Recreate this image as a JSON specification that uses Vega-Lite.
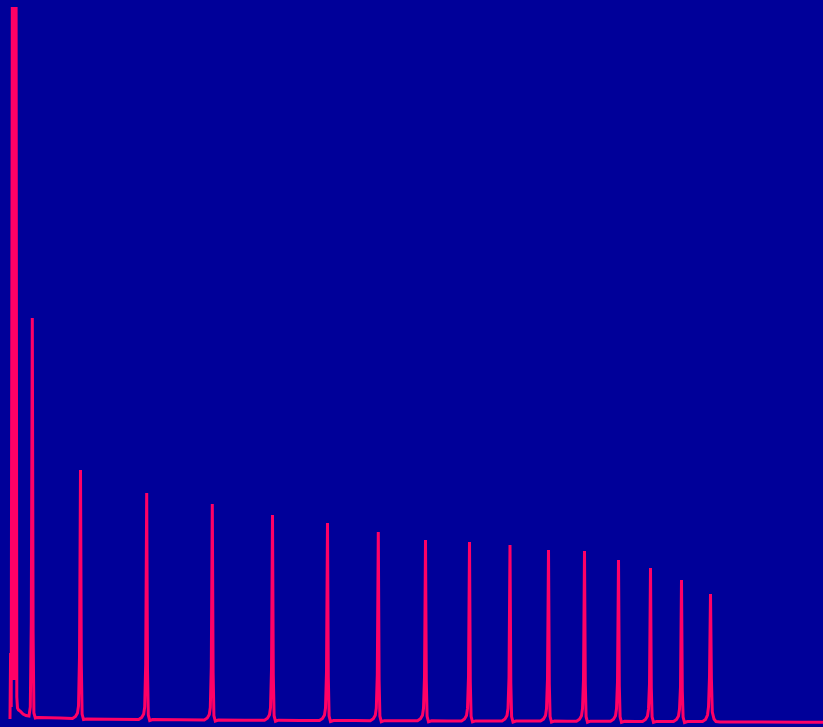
{
  "$schema": "https://vega.github.io/schema/vega-lite/v6.json",
  "width": 823,
  "height": 727,
  "autosize": {"type": "none"},
  "padding": 0,
  "background": "#000099",
  "config": {"view": {"stroke": null}},
  "data": {"values": [
    {"x": 10, "y": 8}, {"x": 10.6, "y": 74}, {"x": 11.2, "y": 20},
    {"x": 12.3, "y": 720}, {"x": 12.9, "y": 47}, {"x": 13.5, "y": 720}, {"x": 14.1, "y": 47}, {"x": 14.7, "y": 720}, {"x": 15.3, "y": 47}, {"x": 16.1, "y": 720},
    {"x": 16.8, "y": 30}, {"x": 17.5, "y": 19}, {"x": 18.5, "y": 17}, {"x": 20, "y": 16}, {"x": 23, "y": 13}, {"x": 26, "y": 11.5}, {"x": 29, "y": 11},
    {"x": 30.3, "y": 20}, {"x": 31.3, "y": 105}, {"x": 32.3, "y": 409}, {"x": 33.1, "y": 95}, {"x": 33.9, "y": 14}, {"x": 35.3, "y": 9}, {"x": 38, "y": 9.5},
    {"x": 60, "y": 9}, {"x": 72.5, "y": 8.5}, {"x": 75.5, "y": 10.5}, {"x": 77.5, "y": 14}, {"x": 78.5, "y": 21}, {"x": 79.5, "y": 70}, {"x": 80.5, "y": 257}, {"x": 81.3, "y": 64}, {"x": 82.1, "y": 13}, {"x": 83.5, "y": 7.5}, {"x": 86.5, "y": 8},
    {"x": 110, "y": 7.8},
    {"x": 138.7, "y": 7.5}, {"x": 141.7, "y": 9.5}, {"x": 143.7, "y": 13}, {"x": 144.7, "y": 20}, {"x": 145.7, "y": 63}, {"x": 146.7, "y": 234}, {"x": 147.5, "y": 58}, {"x": 148.3, "y": 12}, {"x": 149.7, "y": 6.5}, {"x": 152.7, "y": 7.5},
    {"x": 180, "y": 7.2},
    {"x": 204.3, "y": 7}, {"x": 207.3, "y": 9}, {"x": 209.3, "y": 12.5}, {"x": 210.3, "y": 19.5}, {"x": 211.3, "y": 60}, {"x": 212.3, "y": 223}, {"x": 213.1, "y": 55}, {"x": 213.9, "y": 11.5}, {"x": 215.3, "y": 6}, {"x": 218.3, "y": 7},
    {"x": 245, "y": 6.8},
    {"x": 264.5, "y": 6.8}, {"x": 267.5, "y": 8.8}, {"x": 269.5, "y": 12.3}, {"x": 270.5, "y": 19.3}, {"x": 271.5, "y": 57}, {"x": 272.5, "y": 212}, {"x": 273.3, "y": 52}, {"x": 274.1, "y": 11.3}, {"x": 275.5, "y": 5.8}, {"x": 278.5, "y": 6.8},
    {"x": 300, "y": 6.6},
    {"x": 319.5, "y": 6.5}, {"x": 322.5, "y": 8.5}, {"x": 324.5, "y": 12}, {"x": 325.5, "y": 19}, {"x": 326.5, "y": 55}, {"x": 327.5, "y": 204}, {"x": 328.3, "y": 50}, {"x": 329.1, "y": 11}, {"x": 330.5, "y": 5.5}, {"x": 333.5, "y": 6.5},
    {"x": 355, "y": 6.4},
    {"x": 370.3, "y": 6.3}, {"x": 373.3, "y": 8.3}, {"x": 375.3, "y": 11.8}, {"x": 376.3, "y": 18.8}, {"x": 377.3, "y": 52}, {"x": 378.3, "y": 195}, {"x": 379.1, "y": 47}, {"x": 379.9, "y": 10.8}, {"x": 381.3, "y": 5.3}, {"x": 384.3, "y": 6.3},
    {"x": 402, "y": 6.2},
    {"x": 417.5, "y": 6.2}, {"x": 420.5, "y": 8.2}, {"x": 422.5, "y": 11.7}, {"x": 423.5, "y": 18.7}, {"x": 424.5, "y": 50}, {"x": 425.5, "y": 187}, {"x": 426.3, "y": 46}, {"x": 427.1, "y": 10.7}, {"x": 428.5, "y": 5.2}, {"x": 431.5, "y": 6.2},
    {"x": 448, "y": 6.1},
    {"x": 461.5, "y": 6.1}, {"x": 464.5, "y": 8.1}, {"x": 466.5, "y": 11.6}, {"x": 467.5, "y": 18.6}, {"x": 468.5, "y": 50}, {"x": 469.5, "y": 185}, {"x": 470.3, "y": 45}, {"x": 471.1, "y": 10.6}, {"x": 472.5, "y": 5.1}, {"x": 475.5, "y": 6.1},
    {"x": 490, "y": 6},
    {"x": 502, "y": 6}, {"x": 505, "y": 8}, {"x": 507, "y": 11.5}, {"x": 508, "y": 18.5}, {"x": 509, "y": 49}, {"x": 510, "y": 182}, {"x": 510.8, "y": 44}, {"x": 511.6, "y": 10.5}, {"x": 513, "y": 5}, {"x": 516, "y": 6},
    {"x": 530, "y": 5.9},
    {"x": 540.5, "y": 5.9}, {"x": 543.5, "y": 7.9}, {"x": 545.5, "y": 11.4}, {"x": 546.5, "y": 18.4}, {"x": 547.5, "y": 48}, {"x": 548.5, "y": 177}, {"x": 549.3, "y": 43}, {"x": 550.1, "y": 10.4}, {"x": 551.5, "y": 4.9}, {"x": 554.5, "y": 5.9},
    {"x": 567, "y": 5.8},
    {"x": 576.5, "y": 5.8}, {"x": 579.5, "y": 7.8}, {"x": 581.5, "y": 11.3}, {"x": 582.5, "y": 18.3}, {"x": 583.5, "y": 47.5}, {"x": 584.5, "y": 176}, {"x": 585.3, "y": 43}, {"x": 586.1, "y": 10.3}, {"x": 587.5, "y": 4.8}, {"x": 590.5, "y": 5.8},
    {"x": 602, "y": 5.7},
    {"x": 610.5, "y": 5.7}, {"x": 613.5, "y": 7.7}, {"x": 615.5, "y": 11.2}, {"x": 616.5, "y": 18.2}, {"x": 617.5, "y": 45}, {"x": 618.5, "y": 167}, {"x": 619.3, "y": 41}, {"x": 620.1, "y": 10.2}, {"x": 621.5, "y": 4.7}, {"x": 624.5, "y": 5.7},
    {"x": 635, "y": 5.6},
    {"x": 642.5, "y": 5.6}, {"x": 645.5, "y": 7.6}, {"x": 647.5, "y": 11.1}, {"x": 648.5, "y": 18.1}, {"x": 649.5, "y": 43}, {"x": 650.5, "y": 159}, {"x": 651.3, "y": 39}, {"x": 652.1, "y": 10.1}, {"x": 653.5, "y": 4.6}, {"x": 656.5, "y": 5.6},
    {"x": 666, "y": 5.5},
    {"x": 673.5, "y": 5.5}, {"x": 676.5, "y": 7.5}, {"x": 678.5, "y": 11}, {"x": 679.5, "y": 18}, {"x": 680.5, "y": 40}, {"x": 681.5, "y": 147}, {"x": 682.3, "y": 36}, {"x": 683.1, "y": 10}, {"x": 684.5, "y": 4.5}, {"x": 687.5, "y": 5.5},
    {"x": 696, "y": 5.4},
    {"x": 702.5, "y": 5.4}, {"x": 705.5, "y": 7.4}, {"x": 707.5, "y": 12}, {"x": 708.5, "y": 20}, {"x": 709.5, "y": 50}, {"x": 710.5, "y": 133}, {"x": 711.4, "y": 48}, {"x": 712.3, "y": 15}, {"x": 714, "y": 8}, {"x": 716, "y": 5.4}, {"x": 720, "y": 5},
    {"x": 760, "y": 5}, {"x": 800, "y": 4.8}, {"x": 823, "y": 4.8}
  ]},
  "mark": {"type": "line", "color": "#ff0066", "strokeWidth": 3, "strokeJoin": "miter"},
  "encoding": {
    "x": {"field": "x", "type": "quantitative", "axis": null, "scale": {"domain": [0, 823], "nice": false, "zero": false}},
    "y": {"field": "y", "type": "quantitative", "axis": null, "scale": {"domain": [0, 727], "nice": false, "zero": false}}
  }
}
